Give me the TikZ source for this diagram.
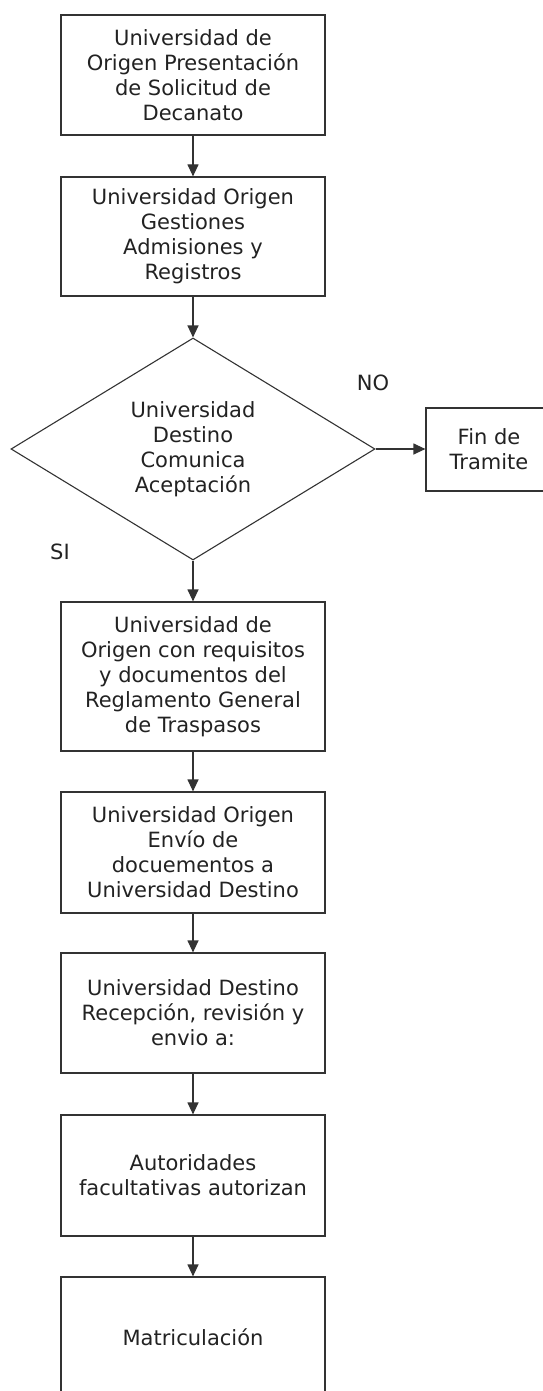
\documentclass[tikz,border=0pt]{standalone}
\usepackage{fontspec}
\setmainfont{DejaVu Sans}
\usetikzlibrary{shapes.geometric,arrows.meta}
\definecolor{linec}{HTML}{333333}
\definecolor{textc}{HTML}{222222}
\tikzset{
  box/.style={draw=linec, line width=1.2pt, rectangle, minimum width=264pt, inner sep=0pt, align=center, text=textc,
    font=\fontsize{21pt}{25pt}\selectfont},
  dec/.style={draw=linec, line width=1.1pt, diamond, minimum width=364pt, minimum height=222pt, aspect=1.64, inner sep=0pt,
    align=center, text=textc, font=\fontsize{21pt}{25pt}\selectfont},
  lbl/.style={text=textc, font=\fontsize{21pt}{25pt}\selectfont, inner sep=0pt},
  arr/.style={draw=linec, line width=1.2pt, -{Triangle[length=12pt,width=11pt]}}
}
\begin{document}
\begin{tikzpicture}[x=1pt,y=-1pt]
\useasboundingbox (0,0) rectangle (543,1391);
\node[box, minimum height=120pt] (b1) at (193,75) {Universidad de\\Origen Presentación\\de Solicitud de\\Decanato};
\node[box, minimum height=119pt] (b2) at (193,236.5) {Universidad Origen\\Gestiones\\Admisiones y\\Registros};
\node[dec] (d) at (193,449) {Universidad\\Destino\\Comunica\\Aceptación};
\node[box, minimum width=126pt, minimum height=83pt] (fin) at (489,449.5) {Fin de\\Tramite};
\node[box, minimum height=149pt] (b4) at (193,676.5) {Universidad de\\Origen con requisitos\\y documentos del\\Reglamento General\\de Traspasos};
\node[box, minimum height=121pt] (b5) at (193,852.5) {Universidad Origen\\Envío de\\docuementos a\\Universidad Destino};
\node[box, minimum height=120pt] (b6) at (193,1013) {Universidad Destino\\Recepción, revisión y\\envio a:};
\node[box, minimum height=121pt] (b7) at (193,1175.5) {Autoridades\\facultativas autorizan};
\node[box, minimum height=120pt] (b8) at (193,1337) {Matriculación};
\node[lbl] (no) at (373,383) {NO};
\node[lbl] (si) at (60,552) {SI};
\draw[arr] (b1) -- (b2);
\draw[arr] (b2) -- (d);
\draw[arr] (d.east) -- (d.east -| fin.west);
\draw[arr] (d) -- (b4);
\draw[arr] (b4) -- (b5);
\draw[arr] (b5) -- (b6);
\draw[arr] (b6) -- (b7);
\draw[arr] (b7) -- (b8);
\end{tikzpicture}
\end{document}
